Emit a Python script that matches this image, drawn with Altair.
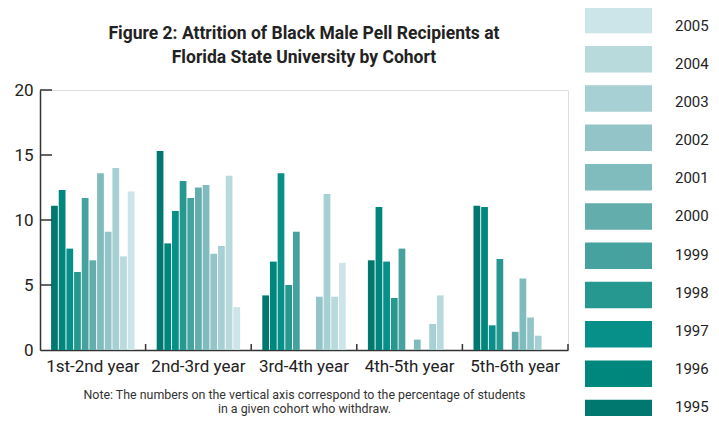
import altair as alt
import pandas as pd

cats = ["1st-2nd year", "2nd-3rd year", "3rd-4th year", "4th-5th year", "5th-6th year"]
years = ["1995", "1996", "1997", "1998", "1999", "2000", "2001", "2002", "2003", "2004", "2005"]

v1995 = [11.1, 15.3, 4.2, 6.9, 11.1]
v1996 = [12.3, 8.2, 6.8, 11.0, 11.0]
v1997 = [7.8, 10.7, 13.6, 6.8, 1.9]
v1998 = [6.0, 13.0, 5.0, 4.0, 7.0]
v1999 = [11.7, 11.7, 9.1, 7.8, None]
v2000 = [6.9, 12.5, None, None, 1.4]
v2001 = [13.6, 12.7, None, 0.8, 5.5]
v2002 = [9.1, 7.4, 4.1, None, 2.5]
v2003 = [14.0, 8.0, 12.0, 2.0, 1.1]
v2004 = [7.2, 13.4, 4.1, 4.2, None]
v2005 = [12.2, 3.3, 6.7, None, None]

series = [v1995, v1996, v1997, v1998, v1999, v2000, v2001, v2002, v2003, v2004, v2005]

colors = ["#00786F", "#00877D", "#069089", "#27988F", "#45A29E", "#63AEAC",
          "#80BCBE", "#93C5C8", "#A6D0D3", "#B8DADD", "#CCE5E8"]

y_ticks = [5, 10, 15, 20]
x_boundaries = [1, 2, 3, 4, 5]

title_lines = ["Figure 2: Attrition of Black Male Pell Recipients at",
               "Florida State University by Cohort"]
note_lines = ["Note: The numbers on the vertical axis correspond to the percentage of students",
              "in a given cohort who withdraw."]

FONT = "Roboto"

rows = []
for yr, vals in zip(years, series):
    for c, v in zip(cats, vals):
        if v is not None:
            rows.append({"cat": c, "year": yr, "value": v})
df = pd.DataFrame(rows)

color_scale = alt.Scale(domain=years, range=colors)

bars = alt.Chart(df).mark_bar().encode(
    x=alt.X("cat:N", sort=cats,
            scale=alt.Scale(paddingInner=0.21, paddingOuter=0.105),
            axis=alt.Axis(title=note_lines, labelAngle=0, ticks=False,
                          labelFontSize=17, labelFont=FONT, labelColor="#222",
                          labelPadding=8, domainColor="#333", domainWidth=1.5,
                          titleFont=FONT, titleFontSize=12.4, titleFontWeight="normal",
                          titleColor="#333", titlePadding=14, titleLineHeight=14.5)),
    xOffset=alt.XOffset("year:N", sort=years, scale=alt.Scale(paddingInner=0.12)),
    y=alt.Y("value:Q", scale=alt.Scale(domain=[0, 20], nice=False),
            axis=alt.Axis(title=None, values=y_ticks + [0], ticks=False, grid=False,
                          labelFontSize=17, labelFont=FONT, labelColor="#222",
                          labelPadding=7, domainColor="#333", domainWidth=1.5,
                          minExtent=32, maxExtent=32)),
    color=alt.Color("year:N", scale=color_scale, legend=None),
)

ytick_df = pd.DataFrame({"v": y_ticks})
yticks = alt.Chart(ytick_df).mark_rule(color="#333", strokeWidth=1.5).encode(
    y=alt.Y("v:Q", scale=alt.Scale(domain=[0, 20], nice=False), axis=None),
    x=alt.value(0),
    x2=alt.value(12),
)

xtick_df = pd.DataFrame({"b": x_boundaries})
xticks = alt.Chart(xtick_df).mark_rule(color="#333", strokeWidth=1.5).encode(
    x=alt.X("b:Q", scale=alt.Scale(domain=[0, 5], nice=False), axis=None),
    y=alt.value(260),
    y2=alt.value(254),
)

leg_df = pd.DataFrame({"year": years})
leg_scale = alt.Scale(range=[-83.3, 336.2], paddingInner=0.326, paddingOuter=0)
leg_rect = alt.Chart(leg_df).mark_bar().encode(
    y=alt.Y("year:N", sort=list(reversed(years)), axis=None, scale=leg_scale),
    x=alt.value(545),
    x2=alt.value(612),
    color=alt.Color("year:N", scale=color_scale, legend=None),
)
leg_text = alt.Chart(leg_df).mark_text(align="left", baseline="middle", fontSize=15,
                                       font=FONT, color="#222").encode(
    y=alt.Y("year:N", sort=list(reversed(years)), axis=None, bandPosition=0.5,
            scale=leg_scale),
    x=alt.value(635),
    text="year:N",
)

chart = alt.layer(bars, yticks, xticks, leg_rect, leg_text).resolve_scale(
    x="independent", y="independent"
).properties(
    width=528, height=260,
    autosize=alt.AutoSizeParams(type="none"),
    padding={"left": 32, "top": 82, "right": 143, "bottom": 66},
    title=alt.TitleParams(title_lines, font=FONT, fontSize=17.5, fontWeight="bold",
                          color="#222", anchor="middle", frame="group",
                          lineHeight=24, offset=0, dy=60),
).configure_view(stroke=None).configure(background="white")

chart.save("out.html", embed_options={"renderer": "svg", "actions": False})
